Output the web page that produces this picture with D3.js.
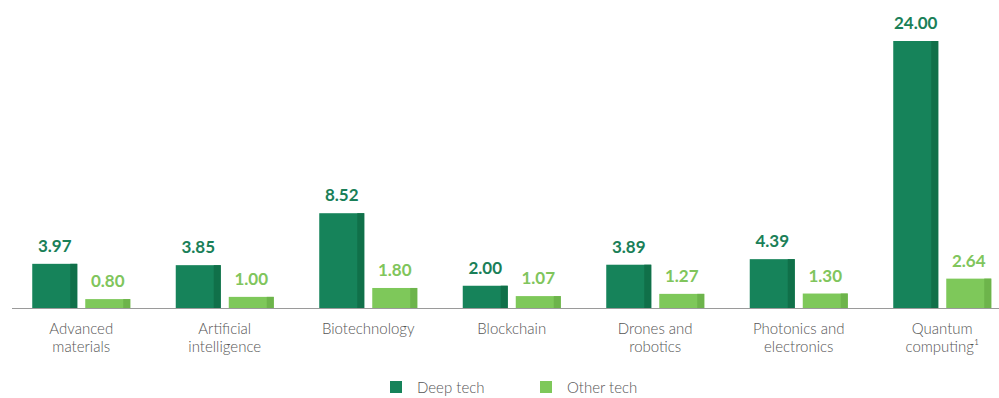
<!DOCTYPE html>
<html>
<head>
<meta charset="utf-8">
<script src="https://cdn.jsdelivr.net/npm/d3@7"></script>
<style>
  body { margin: 0; background: #fff; }
  svg { display: block; font-family: Lato, "Open Sans", sans-serif; }
</style>
</head>
<body>
<div id="chart"></div>
<script>
// Our canvas
const width = 999,
      height = 398,
      baseY = 308,
      topY = 41

// Data
const categories = [
  ['Advanced', 'materials'],
  ['Artificial', 'intelligence'],
  ['Biotechnology'],
  ['Blockchain'],
  ['Drones and', 'robotics'],
  ['Photonics and', 'electronics'],
  ['Quantum', 'computing\u00B9']
]
const series = ['Deep tech', 'Other tech']
const deepTech = [3.97, 3.85, 8.52, 2.00, 3.89, 4.39, 24.00]
const otherTech = [0.80, 1.00, 1.80, 1.07, 1.27, 1.30, 2.64]

const fills = { 'Deep tech': '#16835a', 'Other tech': '#7ec85a' }
const sides = { 'Deep tech': '#107049', 'Other tech': '#6db44b' }
const labelColors = { 'Deep tech': '#1a7f58', 'Other tech': '#80c55c' }

let svg = d3.select('#chart')
  .append('svg')
  .attr('width', width)
  .attr('height', height)

// X Scaling
const x0 = d3.scaleBand()
  .domain(d3.range(categories.length))
  .range([9.5, 1014])
  .paddingInner(0.317)
  .paddingOuter(0.1585)

const x1 = d3.scaleBand()
  .domain(series)
  .range([0, x0.bandwidth()])
  .paddingInner(0.151)

// Y Scaling
const y = d3.scaleLinear()
  .domain([0, 24])
  .range([baseY, topY])

let rows = categories.map((c, i) => ({
  i: i,
  values: [
    { key: 'Deep tech', v: deepTech[i] },
    { key: 'Other tech', v: otherTech[i] }
  ]
}))

let groups = svg.selectAll('g.group')
  .data(rows)
  .enter()
  .append('g')
  .attr('class', 'group')
  .attr('transform', d => `translate(${x0(d.i)},0)`)

let bars = groups.selectAll('g.bar')
  .data(d => d.values)
  .enter()
  .append('g')
  .attr('class', 'bar')

bars.append('rect')
  .attr('x', d => x1(d.key))
  .attr('y', d => y(d.v))
  .attr('width', x1.bandwidth())
  .attr('height', d => baseY - y(d.v))
  .attr('fill', d => fills[d.key])

// darker side strip
bars.append('rect')
  .attr('x', d => x1(d.key) + x1.bandwidth() - 7)
  .attr('y', d => y(d.v))
  .attr('width', 7)
  .attr('height', d => baseY - y(d.v))
  .attr('fill', d => sides[d.key])

bars.append('text')
  .attr('x', d => x1(d.key) + x1.bandwidth() / 2)
  .attr('y', d => y(d.v) - 12)
  .attr('text-anchor', 'middle')
  .attr('font-size', 17)
  .attr('font-weight', 700)
  .attr('fill', d => labelColors[d.key])
  .text(d => d3.format('.2f')(d.v))

// base line
svg.append('line')
  .attr('x1', 12)
  .attr('x2', width)
  .attr('y1', baseY + 0.5)
  .attr('y2', baseY + 0.5)
  .attr('stroke', '#9a9a9a')
  .attr('stroke-width', 1.2)

// category labels
let cats = svg.selectAll('text.cat')
  .data(categories)
  .enter()
  .append('text')
  .attr('class', 'cat')
  .attr('x', (d, i) => x0(i) + x0.bandwidth() / 2)
  .attr('y', 334)
  .attr('text-anchor', 'middle')
  .attr('font-size', 15)
  .attr('font-weight', 300)
  .attr('fill', '#555')

cats.selectAll('tspan')
  .data(d => d)
  .enter()
  .append('tspan')
  .attr('x', function () { return d3.select(this.parentNode).attr('x') })
  .attr('dy', (d, i) => i === 0 ? 0 : 18)
  .text(d => d)

// legend
const legendX = [390, 540]
let legend = svg.selectAll('g.legend')
  .data(series)
  .enter()
  .append('g')
  .attr('class', 'legend')
  .attr('transform', (d, i) => `translate(${legendX[i]},381)`)

legend.append('rect')
  .attr('width', 12)
  .attr('height', 12)
  .attr('fill', d => fills[d])

legend.append('text')
  .attr('x', 27)
  .attr('y', 12)
  .attr('font-size', 15)
  .attr('font-weight', 300)
  .attr('fill', '#555')
  .text(d => d)
</script>
</body>
</html>
